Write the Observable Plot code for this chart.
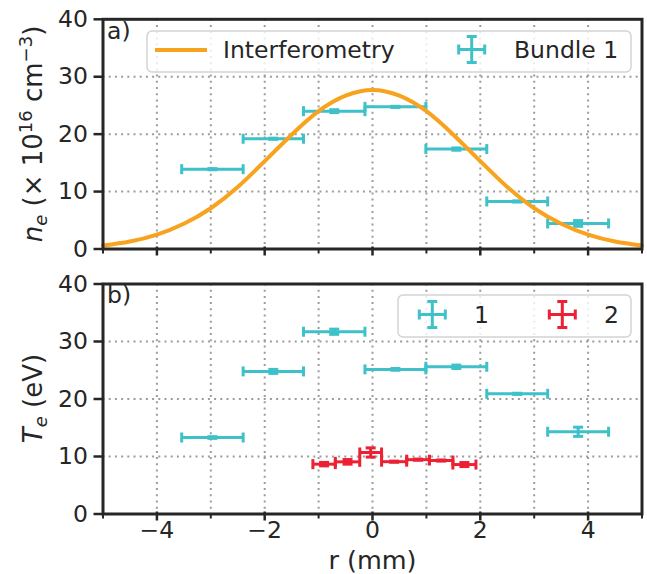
<!DOCTYPE html>
<html><head><meta charset="utf-8">
<script src="https://cdn.jsdelivr.net/npm/d3@7"></script>
<script src="https://cdn.jsdelivr.net/npm/@observablehq/plot@0.6"></script>
<style>
body{margin:0;background:#fff;}
#chart svg{display:block;}
</style></head><body><div id="chart"></div>
<script>
// ---- data ----
const interfR  = [-5, -4.5, -4, -3.5, -3, -2.5, -2, -1.5, -1, -0.5, 0, 0.5, 1, 1.5, 2, 2.5, 3, 3.5, 4, 4.5, 5];
const interfNe = [0.6, 1.3, 2.5, 4.4, 7.1, 10.8, 15.3, 19.9, 24.0, 26.7, 27.7, 26.7, 24.0, 19.9, 15.3, 10.8, 7.1, 4.4, 2.5, 1.3, 0.6];

const bundle1R    = [-2.97, -1.84, -0.71, 0.425, 1.555, 2.685, 3.815];
const bundle1RErr = [0.57, 0.56, 0.57, 0.565, 0.565, 0.565, 0.565];
const bundle1Ne    = [13.9, 19.2, 24.0, 24.75, 17.4, 8.28, 4.45];
const bundle1NeErr = [0.1, 0.1, 0.25, 0.1, 0.2, 0.1, 0.5];
const bundle1Te    = [13.3, 24.8, 31.7, 25.15, 25.6, 20.9, 14.3];
const bundle1TeErr = [0.15, 0.35, 0.45, 0.15, 0.3, 0.1, 0.8];

const bundle2R    = [-0.898, -0.463, -0.034, 0.401, 0.845, 1.274, 1.705];
const bundle2RErr = [0.208, 0.226, 0.202, 0.233, 0.211, 0.218, 0.214];
const bundle2Te    = [8.67, 9.07, 10.7, 9.1, 9.45, 9.3, 8.6];
const bundle2TeErr = [0.3, 0.4, 0.8, 0.1, 0.1, 0.1, 0.35];

const xMajorTicks = [-4, -2, 0, 2, 4];
const xMinorTicks = [-5, -3, -1, 1, 3, 5];
const xGrid = [-4, -3, -2, -1, 0, 1, 2, 3, 4];
const yTicks = [0, 10, 20, 30, 40];
const yGrid = [10, 20, 30];

const ORANGE = "#F8A31E", CYAN = "#3EC1C9", RED = "#EC2133", INK = "#262626";
const FONT = "DejaVu Sans";

// ---- helpers ----
const interf = interfR.map((r, i) => ({x: r, y: interfNe[i]}));
const mk = (xs, xe, ys, ye) => xs.map((x, i) => ({x, xe: xe[i], y: ys[i], ye: ye[i]}));
const ne1 = mk(bundle1R, bundle1RErr, bundle1Ne, bundle1NeErr);
const te1 = mk(bundle1R, bundle1RErr, bundle1Te, bundle1TeErr);
const te2 = mk(bundle2R, bundle2RErr, bundle2Te, bundle2TeErr);

const vcap = {draw(c, s){ const r = Math.sqrt(s/Math.PI); c.moveTo(0,-r); c.lineTo(0,r); }};
const hcap = {draw(c, s){ const r = Math.sqrt(s/Math.PI); c.moveTo(-r,0); c.lineTo(r,0); }};

function errorbars(data, color) {
  const o = {stroke: color, strokeWidth: 3};
  return [
    Plot.ruleY(data, {y: "y", x1: d => d.x - d.xe, x2: d => d.x + d.xe, ...o}),
    Plot.ruleX(data, {x: "x", y1: d => d.y - d.ye, y2: d => d.y + d.ye, ...o}),
    Plot.dot(data, {x: d => d.x - d.xe, y: "y", symbol: vcap, r: 5, fill: "none", ...o}),
    Plot.dot(data, {x: d => d.x + d.xe, y: "y", symbol: vcap, r: 5, fill: "none", ...o}),
    Plot.dot(data, {x: "x", y: d => d.y - d.ye, symbol: hcap, r: 5, fill: "none", ...o}),
    Plot.dot(data, {x: "x", y: d => d.y + d.ye, symbol: hcap, r: 5, fill: "none", ...o})
  ];
}

const fmt = d => d < 0 ? "\u2212" + Math.abs(d) : String(d);

function panel({height, marginTop, marginBottom, showX, marks}) {
  return Plot.plot({
    width: 647, height, marginLeft: 102.5, marginRight: 5.5, marginTop, marginBottom,
    x: {domain: [-5, 5]},
    y: {domain: [0, 40]},
    style: {fontFamily: FONT, fontSize: "23.5px", color: INK, background: "white", overflow: "visible"},
    marks: [
      Plot.gridX(xGrid, {stroke: "#9c9c9c", strokeOpacity: 1, strokeWidth: 2, strokeDasharray: "2,4.2"}),
      Plot.gridY(yGrid, {stroke: "#9c9c9c", strokeOpacity: 1, strokeWidth: 2, strokeDasharray: "2,4.2"}),
      ...marks,
      Plot.axisX(xMajorTicks, {tickSize: 9, tickPadding: 0, dy: -2, strokeWidth: 2.5, stroke: INK, label: null,
        tickFormat: showX ? fmt : () => ""}),
      Plot.axisX(xMinorTicks, {tickSize: 5, strokeWidth: 2, stroke: INK, label: null, tickFormat: () => ""}),
      Plot.axisY(yTicks, {tickSize: 9, tickPadding: 6, strokeWidth: 2.5, stroke: INK, label: null, tickFormat: fmt}),
      Plot.frame({stroke: INK, strokeWidth: 3})
    ]
  });
}

function txt(sel, x, y, s, size = 23.5) {
  return sel.append("text").attr("x", x).attr("y", y).attr("fill", INK).attr("font-family", FONT)
    .attr("font-size", size).attr("text-anchor", "start").style("text-anchor", "start").text(s);
}

function legendGlyph(g, cx, cy, color) {
  const a = 13, c = 5;
  const line = (x1, y1, x2, y2) => g.append("line").attr("x1", x1).attr("y1", y1).attr("x2", x2).attr("y2", y2)
    .attr("stroke", color).attr("stroke-width", 3);
  line(cx - a, cy, cx + a, cy);
  line(cx, cy - a, cx, cy + a);
  line(cx - a, cy - c, cx - a, cy + c);
  line(cx + a, cy - c, cx + a, cy + c);
  line(cx - c, cy - a, cx + c, cy - a);
  line(cx - c, cy + a, cx + c, cy + a);
}

// ---- top panel ----
const topSvg = panel({height: 270, marginTop: 18.8, marginBottom: 21.5, showX: false,
  marks: [...errorbars(ne1, CYAN),
    Plot.line(interf, {x: "x", y: "y", stroke: ORANGE, strokeWidth: 4, curve: "natural"})]});
{
  const s = d3.select(topSvg);
  txt(s, 107, 38.5, "a)");
  const g = s.append("g");
  g.append("rect").attr("x", 147).attr("y", 31).attr("width", 484).attr("height", 41).attr("rx", 5)
    .attr("fill", "white").attr("fill-opacity", 0.8).attr("stroke", "#d3d3d3").attr("stroke-width", 1.5);
  g.append("line").attr("x1", 155).attr("x2", 207).attr("y1", 50).attr("y2", 50).attr("stroke", ORANGE).attr("stroke-width", 4);
  txt(g, 223, 58, "Interferometry");
  legendGlyph(g, 471.7, 49.5, CYAN);
  txt(g, 514, 58, "Bundle 1");
  const t = s.append("text").attr("transform", "translate(42,134) rotate(-90)").attr("text-anchor", "middle")
    .attr("fill", INK).attr("font-family", FONT).attr("font-size", 26);
  t.append("tspan").attr("font-style", "italic").text("n");
  t.append("tspan").attr("font-style", "italic").attr("font-size", 18).attr("dy", 5).text("e");
  t.append("tspan").attr("dy", -5).text(" (\u00D7 10");
  t.append("tspan").attr("font-size", 18).attr("dy", -10).text("16");
  t.append("tspan").attr("dy", 10).text(" cm");
  t.append("tspan").attr("font-size", 18).attr("dy", -10).text("\u22123");
  t.append("tspan").attr("dy", 10).text(")");
}

// ---- bottom panel ----
const botSvg = panel({height: 304, marginTop: 13.5, marginBottom: 60.5, showX: true,
  marks: [...errorbars(te1, CYAN), ...errorbars(te2, RED)]});
{
  const s = d3.select(botSvg);
  txt(s, 107, 33.2, "b)");
  const g = s.append("g");
  g.append("rect").attr("x", 398).attr("y", 25).attr("width", 233).attr("height", 42).attr("rx", 5)
    .attr("fill", "white").attr("fill-opacity", 0.8).attr("stroke", "#d3d3d3").attr("stroke-width", 1.5);
  legendGlyph(g, 432.3, 44.5, CYAN);
  txt(g, 474, 53, "1");
  legendGlyph(g, 562.3, 44.5, RED);
  txt(g, 604, 53, "2");
  const t = s.append("text").attr("transform", "translate(42,128.5) rotate(-90)").attr("text-anchor", "middle")
    .attr("fill", INK).attr("font-family", FONT).attr("font-size", 26);
  t.append("tspan").attr("font-style", "italic").text("T");
  t.append("tspan").attr("font-style", "italic").attr("font-size", 18).attr("dy", 5).text("e");
  t.append("tspan").attr("dy", -5).text(" (eV)");
  s.append("text").attr("x", 372.5).attr("y", 299).attr("text-anchor", "middle").attr("fill", INK)
    .attr("font-family", FONT).attr("font-size", 25.5).text("r (mm)");
}

document.getElementById("chart").append(topSvg, botSvg);
</script>
</body></html>
